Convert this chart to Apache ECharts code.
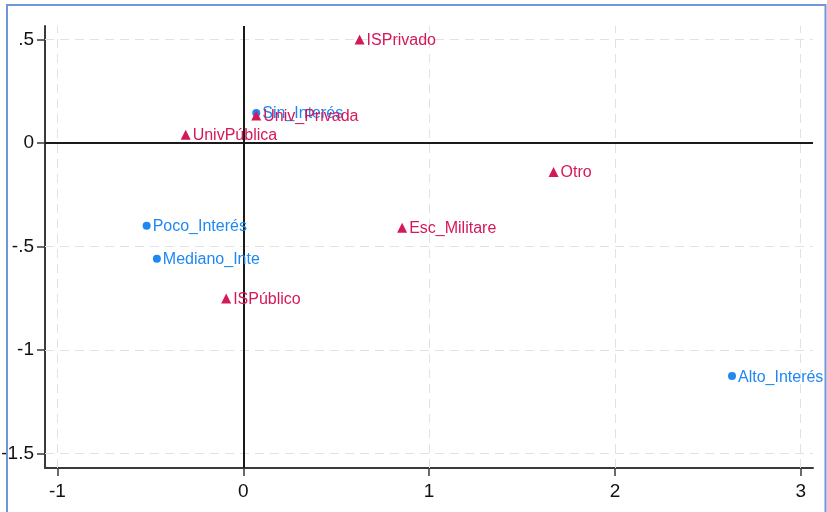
<!DOCTYPE html>
<html>
<head>
<meta charset="utf-8">
<script src="https://cdn.jsdelivr.net/npm/echarts@6/dist/echarts.min.js"></script>
<style>
html,body{margin:0;padding:0;background:#fff;}
#chart{width:827px;height:512px;}
</style>
</head>
<body>
<div id="chart"></div>
<script>
// Row points (interest level) — blue circles
var rowNames = ['Sin_Interés', 'Poco_Interés', 'Mediano_Inte', 'Alto_Interés'];
var rowX = [0.07, -0.52, -0.465, 2.63];
var rowY = [0.145, -0.40, -0.56, -1.127];

// Column points (institution type) — red triangles
var colNames = ['ISPrivado', 'Univ_Privada', 'UnivPública', 'Esc_Militare', 'Otro', 'ISPúblico'];
var colX = [0.626, 0.07, -0.31, 0.855, 1.67, -0.092];
var colY = [0.50, 0.132, 0.04, -0.41, -0.14, -0.752];

// Axis ticks
var xTicks = [-1, 0, 1, 2, 3];
var yTicks = [-1.5, -1, -0.5, 0, 0.5];

var FONT = '"Liberation Sans", Arial, Helvetica, sans-serif';
var BLUE = '#1f87f2';
var RED = '#d5175b';

function fmt(v) {
  var s = String(v);
  return s.replace(/^(-?)0\./, '$1.');
}

function pts(names, xs, ys) {
  return names.map(function (n, i) { return { name: n, value: [xs[i], ys[i]] }; });
}

var gridLines = [];
xTicks.forEach(function (v) {
  gridLines.push({ xAxis: v, lineStyle: { color: '#e2e2e2', width: 1, type: [9, 6] } });
});
yTicks.forEach(function (v) {
  gridLines.push({ yAxis: v, lineStyle: { color: '#e2e2e2', width: 1, type: [9, 6] } });
});

var chart = echarts.init(document.getElementById('chart'), null, { renderer: 'canvas' });
chart.setOption({
  animation: false,
  backgroundColor: '#ffffff',
  grid: { left: 45, right: 14, top: 26, bottom: 44, containLabel: false, outerBoundsMode: 'none' },
  xAxis: {
    type: 'value', min: -1.067, max: 3.066,
    axisLine: { show: true, onZero: false, lineStyle: { color: '#3a3a3a', width: 2 } },
    axisTick: { show: true, customValues: xTicks, length: 8, lineStyle: { color: '#3a3a3a', width: 1.5 } },
    axisLabel: { customValues: xTicks, formatter: fmt, color: '#111', fontSize: 19, fontFamily: FONT, margin: 14 },
    splitLine: { show: false }
  },
  yAxis: {
    type: 'value', min: -1.571, max: 0.565,
    axisLine: { show: true, onZero: false, lineStyle: { color: '#3a3a3a', width: 2 } },
    axisTick: { show: true, customValues: yTicks, length: 8, lineStyle: { color: '#3a3a3a', width: 1.5 } },
    axisLabel: { customValues: yTicks, formatter: fmt, color: '#111', fontSize: 19, fontFamily: FONT, margin: 11 },
    splitLine: { show: false }
  },
  graphic: [{
    type: 'rect', silent: true, z: 100,
    shape: { x: 7, y: 5, width: 818.5, height: 530 },
    style: { fill: null, stroke: '#6f96d8', lineWidth: 2 }
  }],
  series: [
    {
      type: 'scatter', data: [], silent: true, z: 1,
      markLine: {
        silent: true, symbol: 'none', animation: false,
        label: { show: false },
        data: gridLines
      }
    },
    {
      type: 'scatter', data: [], silent: true, z: 2,
      markLine: {
        silent: true, symbol: 'none', animation: false,
        label: { show: false },
        data: [
          { xAxis: 0, lineStyle: { color: '#1a1a1a', width: 2, type: 'solid' } },
          { yAxis: 0, lineStyle: { color: '#1a1a1a', width: 2, type: 'solid' } }
        ]
      }
    },
    {
      type: 'scatter', name: 'rows', z: 5,
      symbol: 'circle', symbolSize: 8,
      itemStyle: { color: BLUE, opacity: 1 },
      data: pts(rowNames, rowX, rowY),
      label: { show: true, position: 'right', distance: 2, offset: [0, 1], formatter: '{b}', color: BLUE, fontSize: 16, fontFamily: FONT }
    },
    {
      type: 'scatter', name: 'cols', z: 6,
      symbol: 'triangle', symbolSize: 10,
      itemStyle: { color: RED, opacity: 1 },
      data: pts(colNames, colX, colY),
      label: { show: true, position: 'right', distance: 2, offset: [0, 1], formatter: '{b}', color: RED, fontSize: 16, fontFamily: FONT }
    }
  ]
});
</script>
</body>
</html>
